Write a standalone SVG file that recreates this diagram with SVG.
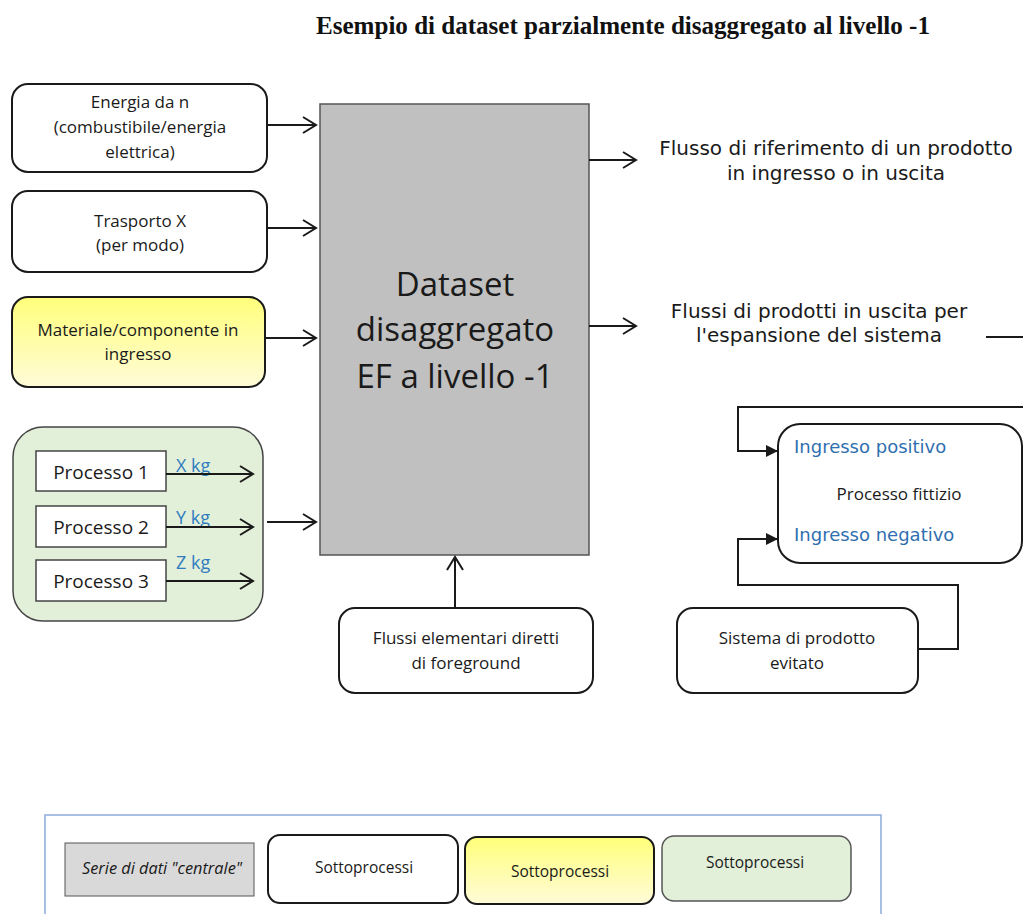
<svg xmlns="http://www.w3.org/2000/svg" width="1023" height="914" viewBox="0 0 1023 914">
  <defs>
    <style>
      .box { fill: #ffffff; stroke: #1a1a1a; stroke-width: 2; }
      .lbl { font-family: "Open Sans", "Liberation Sans", sans-serif; font-size: 17px; fill: #1a1a1a; text-anchor: middle; }
      .vlbl { font-family: "DejaVu Sans", Verdana, sans-serif; font-size: 20px; fill: #1a1a1a; text-anchor: middle; }
      .blue { font-family: "DejaVu Sans", Verdana, sans-serif; font-size: 18px; fill: #2f6fb0; }
      .kg { font-family: "Open Sans", "Liberation Sans", sans-serif; font-size: 18px; fill: #2f7dc0; }
      .leg { font-family: "Open Sans", "Liberation Sans", sans-serif; font-size: 15.5px; fill: #1a1a1a; text-anchor: middle; }
      .wire { fill: none; stroke: #1a1a1a; stroke-width: 2; }
      .open { marker-end: url(#open); }
      .solid { marker-end: url(#solid); }
    </style>
    <marker id="open" viewBox="0 0 16 18" refX="14" refY="9" markerWidth="16" markerHeight="18" markerUnits="userSpaceOnUse" orient="auto">
      <path d="M1,1 L14,9 L1,17" fill="none" stroke="#1a1a1a" stroke-width="2"/>
    </marker>
    <marker id="solid" viewBox="0 0 12 12" refX="11" refY="6" markerWidth="12" markerHeight="12" markerUnits="userSpaceOnUse" orient="auto">
      <path d="M0,0 L12,6 L0,12 Z" fill="#1a1a1a"/>
    </marker>
    <linearGradient id="yellow" x1="0" y1="0" x2="0" y2="1">
      <stop offset="0" stop-color="#ffff7a"/>
      <stop offset="1" stop-color="#fffbd8"/>
    </linearGradient>
  </defs>

  <!-- heading -->
  <text x="316" y="34" textLength="614" lengthAdjust="spacingAndGlyphs" font-family="Liberation Serif, serif" font-weight="bold" font-size="26" fill="#111">Esempio di dataset parzialmente disaggregato al livello -1</text>

  <!-- central dataset -->
  <g id="dataset">
    <rect x="320" y="104" width="269" height="451" fill="#c0c0c0" stroke="#555" stroke-width="1.5"/>
    <g font-family="Open Sans, Liberation Sans, sans-serif" font-size="33" fill="#1a1a1a" text-anchor="middle">
      <text x="455" y="296">Dataset</text>
      <text x="455" y="341">disaggregato</text>
      <text x="455" y="388">EF a livello -1</text>
    </g>
  </g>

  <g id="energia">
    <rect class="box" x="12" y="84" width="255" height="88" rx="16"/>
    <text class="lbl" x="140" y="108">Energia da n</text>
    <text class="lbl" x="140" y="133">(combustibile/energia</text>
    <text class="lbl" x="140" y="158">elettrica)</text>
  </g>

  <g id="trasporto">
    <rect class="box" x="12" y="191" width="255" height="81" rx="16"/>
    <text class="lbl" x="140" y="227">Trasporto X</text>
    <text class="lbl" x="140" y="251">(per modo)</text>
  </g>

  <g id="materiale">
    <rect x="12" y="297" width="253" height="90" rx="16" fill="url(#yellow)" stroke="#1a1a1a" stroke-width="2"/>
    <text class="lbl" x="138" y="336">Materiale/componente in</text>
    <text class="lbl" x="138" y="360">ingresso</text>
  </g>

  <g id="processi">
    <rect x="13" y="427" width="250" height="194" rx="30" fill="#e2efd9" stroke="#444" stroke-width="1.5"/>
    <rect x="36" y="451" width="130" height="40" fill="#fff" stroke="#444" stroke-width="1.5"/>
    <rect x="36" y="506" width="130" height="41" fill="#fff" stroke="#444" stroke-width="1.5"/>
    <rect x="36" y="560" width="130" height="41" fill="#fff" stroke="#444" stroke-width="1.5"/>
    <g font-family="Open Sans, Liberation Sans, sans-serif" font-size="19" fill="#1a1a1a" text-anchor="middle">
      <text x="101" y="479">Processo 1</text>
      <text x="101" y="534">Processo 2</text>
      <text x="101" y="588">Processo 3</text>
    </g>
    <text class="kg" x="176" y="472">X kg</text>
    <text class="kg" x="176" y="524">Y kg</text>
    <text class="kg" x="176" y="569">Z kg</text>
  </g>

  <g id="flussi-elementari">
    <rect class="box" x="339" y="608" width="254" height="85" rx="16"/>
    <text class="lbl" x="466" y="644">Flussi elementari diretti</text>
    <text class="lbl" x="466" y="669">di foreground</text>
  </g>

  <g id="flusso-riferimento">
    <text class="vlbl" x="836" y="155">Flusso di riferimento di un prodotto</text>
    <text class="vlbl" x="836" y="180">in ingresso o in uscita</text>
  </g>

  <g id="flussi-uscita">
    <text class="vlbl" x="819" y="318">Flussi di prodotti in uscita per</text>
    <text class="vlbl" x="819" y="342">l'espansione del sistema</text>
  </g>

  <g id="processo-fittizio">
    <rect class="box" x="778" y="424" width="244" height="139" rx="22"/>
    <text class="blue" x="794" y="453">Ingresso positivo</text>
    <text x="899" y="500" text-anchor="middle" font-family="Open Sans, Liberation Sans, sans-serif" font-size="17" fill="#1a1a1a">Processo fittizio</text>
    <text class="blue" x="794" y="541">Ingresso negativo</text>
  </g>

  <g id="prodotto-evitato">
    <rect class="box" x="677" y="608" width="241" height="85" rx="16"/>
    <text class="lbl" x="797" y="644">Sistema di prodotto</text>
    <text class="lbl" x="797" y="669">evitato</text>
  </g>

  <!-- connectors -->
  <g id="connectors">
    <path class="wire open" d="M267,125 H316"/>
    <path class="wire open" d="M267,228 H316"/>
    <path class="wire open" d="M265,338 H316"/>
    <path class="wire open" d="M267,522 H316"/>
    <path class="wire open" d="M166,474 H253"/>
    <path class="wire open" d="M166,527 H253"/>
    <path class="wire open" d="M166,581 H253"/>
    <path class="wire open" d="M455,608 V557"/>
    <path class="wire open" d="M589,160 H636"/>
    <path class="wire open" d="M589,326 H636"/>
    <path class="wire" d="M986,337 H1023"/>
    <path class="wire solid" d="M1023,407 H738 V451 H777"/>
    <path class="wire solid" d="M918,649 H958 V585 H738 V539 H777"/>
  </g>

  <!-- legend -->
  <g id="legenda">
    <rect x="45" y="815" width="836" height="110" fill="#fff" stroke="#8eaadb" stroke-width="1.5"/>
    <rect x="65" y="843" width="189" height="53" fill="#d9d9d9" stroke="#555" stroke-width="1"/>
    <text class="leg" x="162" y="874" font-style="italic" textLength="160" lengthAdjust="spacingAndGlyphs">Serie di dati "centrale"</text>
    <rect x="268" y="835" width="190" height="68" rx="12" fill="#fff" stroke="#1a1a1a" stroke-width="2"/>
    <text class="leg" x="364" y="873">Sottoprocessi</text>
    <rect x="465" y="837" width="189" height="67" rx="12" fill="url(#yellow)" stroke="#1a1a1a" stroke-width="2"/>
    <text class="leg" x="560" y="877">Sottoprocessi</text>
    <rect x="662" y="836" width="189" height="65" rx="12" fill="#e2efd9" stroke="#555" stroke-width="1.5"/>
    <text class="leg" x="755" y="868">Sottoprocessi</text>
  </g>
</svg>
